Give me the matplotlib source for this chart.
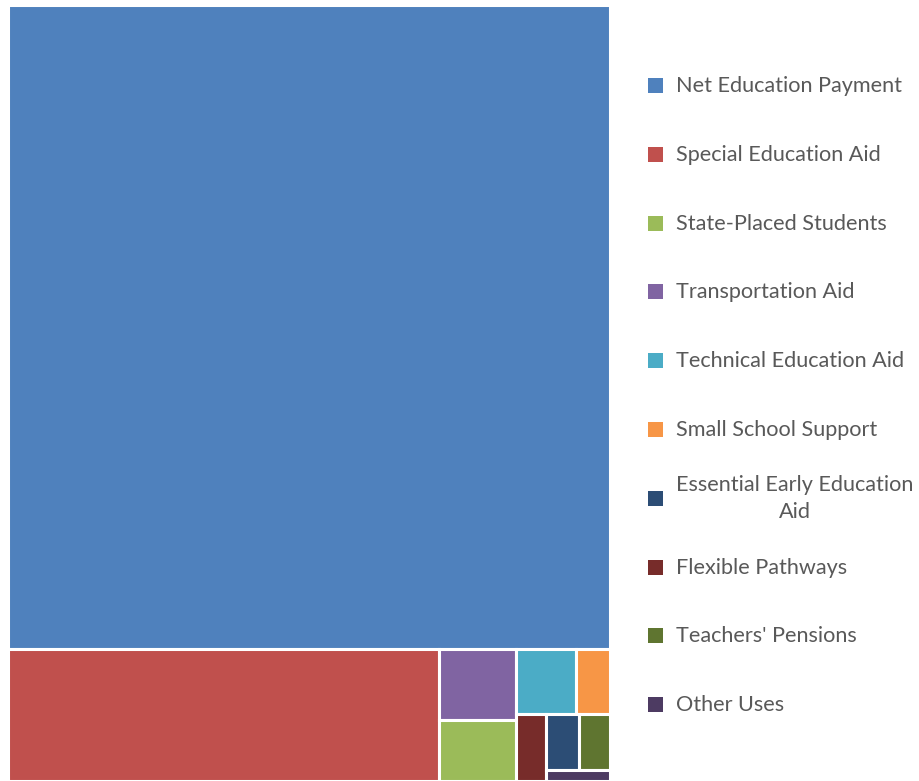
import matplotlib.pyplot as plt
from matplotlib.patches import Rectangle

# Dados (milhões de dólares)
categorias = ['Net Education Payment', 'Special Education Aid', 'State-Placed Students',
              'Transportation Aid', 'Technical Education Aid', 'Small School Support',
              'Essential Early Education\nAid', 'Flexible Pathways', "Teachers' Pensions",
              'Other Uses']
valores = [1388.0, 203.6, 16.7, 19.3, 14.0, 7.8, 6.65, 7.24, 6.25, 2.53]
cores = ['#4F81BD', '#C0504D', '#9BBB59', '#8064A2', '#4BACC6', '#F79646',
         '#2C4D75', '#772C2A', '#5F7530', '#4D3B62']

# Estrutura do treemap (índices das categorias): 'v' empilha, 'h' lado a lado
estrutura = ['v', 0, ['h', 1, ['v', 3, 2],
                      ['v', ['h', 4, 5], ['h', 7, ['v', ['h', 6, 8], 9]]]]]


def soma(no):
    if isinstance(no, int):
        return valores[no]
    return sum(soma(f) for f in no[1:])


def layout(no, x, y, w, h, out):
    if isinstance(no, int):
        out.append((no, x, y, w, h))
        return
    total = soma(no)
    pos = 0
    for f in no[1:]:
        frac = soma(f) / total
        if no[0] == 'v':
            layout(f, x, y + pos * h, w, frac * h, out)
        else:
            layout(f, x + pos * w, y, frac * w, h, out)
        pos += frac


W, H = 602, 776
retangulos = []
layout(estrutura, 0, 0, W, H, retangulos)

fig = plt.figure(figsize=(9.2, 7.81), dpi=100)
ax = fig.add_axes([8 / 920, 0, W / 920, H / 781])
for i, x, y, w, h in retangulos:
    ax.add_patch(Rectangle((x, y), w, h, facecolor=cores[i], edgecolor='white', linewidth=2.2))
ax.set_xlim(0, W)
ax.set_ylim(H, 0)
ax.axis('off')

# Legenda manual (passo fixo, como no Excel)
lg = fig.add_axes([0, 0, 1, 1], zorder=-1)
lg.set_xlim(0, 920)
lg.set_ylim(781, 0)
lg.axis('off')
for k, nome in enumerate(categorias):
    yc = 85 + k * 68.8
    lg.add_patch(Rectangle((648, yc - 7), 15, 15, facecolor=cores[k], edgecolor='none'))
    lg.text(676, yc + 1, nome, ha='left', va='center', multialignment='center',
            fontsize=15.6, color='#595959', family='Lato', linespacing=1.45)

plt.savefig('out.png', dpi=100)
